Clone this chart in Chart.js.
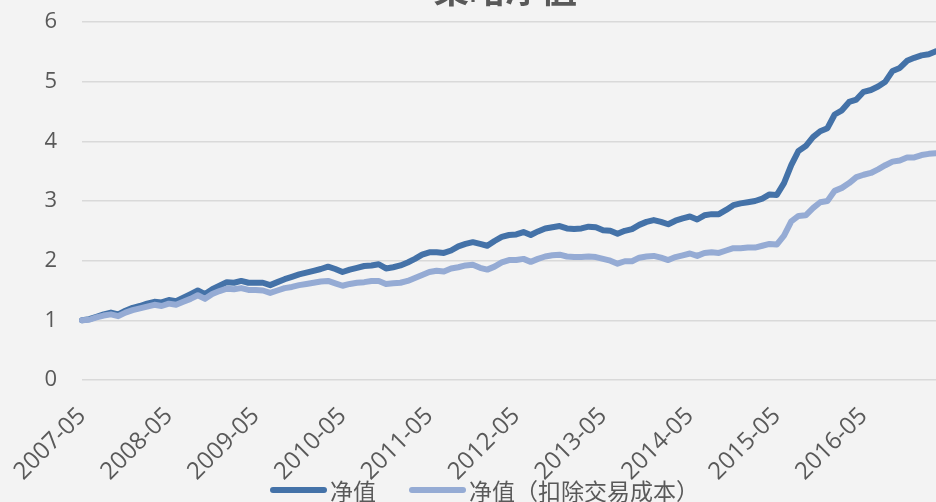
<!DOCTYPE html>
<html>
<head>
<meta charset="utf-8">
<title>策略净值</title>
<script src="https://cdn.jsdelivr.net/npm/chart.js@4.4.1/dist/chart.umd.min.js"></script>
<style>
    html, body {
        margin: 0;
        padding: 0;
        background: #f3f3f3;
        overflow: hidden;
    }
    .chart-container {
        position: relative;
        width: 936px;
        height: 502px;
    }
    .legend-container {
        position: absolute;
        left: 270px;
        top: 475px;
        height: 30px;
        display: flex;
        align-items: center;
        font: 23px "Noto Sans CJK SC", sans-serif;
        color: #595959;
        text-spacing-trim: space-all;
        font-kerning: none;
        font-feature-settings: "kern" 0, "palt" 0, "halt" 0;
    }
    .legend-item {
        display: flex;
        align-items: center;
        margin-right: 33px;
    }
    .legend-color {
        width: 57px;
        height: 6px;
        border-radius: 3px;
        margin-right: 3px;
    }
</style>
</head>
<body>
<div class="chart-container">
    <canvas id="navChart" width="936" height="502"></canvas>
</div>
<script>
// monthly points, 2007-05 .. 2017-03
const months = [];
for (let y = 2007, m = 5; months.length < 119; m++) {
    if (m > 12) { m = 1; y++; }
    months.push(`${y}-${String(m).padStart(2, '0')}`);
}

const netValue = [
    1.00, 1.02, 1.06, 1.10, 1.13, 1.10, 1.16, 1.21, 1.24, 1.28, 1.31, 1.30,
    1.34, 1.32, 1.38, 1.44, 1.50, 1.44, 1.52, 1.58, 1.64, 1.63, 1.66, 1.63,
    1.63, 1.63, 1.59, 1.64, 1.69, 1.73, 1.77, 1.80, 1.83, 1.86, 1.90, 1.86,
    1.81, 1.85, 1.88, 1.91, 1.92, 1.94, 1.87, 1.89, 1.92, 1.97, 2.03, 2.10,
    2.14, 2.14, 2.13, 2.17, 2.24, 2.28, 2.31, 2.28, 2.25, 2.33, 2.40, 2.43,
    2.44, 2.48, 2.43, 2.49, 2.54, 2.56, 2.58, 2.54, 2.53, 2.54, 2.57, 2.56,
    2.51, 2.50, 2.45, 2.50, 2.53, 2.60, 2.65, 2.68, 2.65, 2.61, 2.67, 2.71,
    2.74, 2.69, 2.76, 2.78, 2.78, 2.85, 2.93, 2.96, 2.98, 3.00, 3.04, 3.11,
    3.10, 3.30, 3.60, 3.84, 3.92, 4.07, 4.17, 4.22, 4.45, 4.52, 4.66, 4.70,
    4.83, 4.86, 4.92, 5.00, 5.18, 5.23, 5.35, 5.40, 5.44, 5.46, 5.51
];

const netValueAfterCost = [
    1.00, 1.01, 1.05, 1.08, 1.10, 1.07, 1.13, 1.17, 1.20, 1.23, 1.26, 1.24,
    1.28, 1.26, 1.31, 1.36, 1.42, 1.36, 1.44, 1.49, 1.53, 1.52, 1.54, 1.51,
    1.51, 1.50, 1.46, 1.50, 1.54, 1.56, 1.59, 1.61, 1.63, 1.65, 1.66, 1.62,
    1.58, 1.61, 1.63, 1.64, 1.66, 1.66, 1.61, 1.62, 1.63, 1.66, 1.71, 1.76,
    1.81, 1.83, 1.82, 1.87, 1.89, 1.92, 1.93, 1.88, 1.85, 1.90, 1.97, 2.01,
    2.01, 2.03, 1.98, 2.03, 2.07, 2.09, 2.10, 2.07, 2.06, 2.06, 2.07, 2.06,
    2.03, 2.00, 1.95, 1.99, 1.99, 2.05, 2.07, 2.08, 2.05, 2.01, 2.06, 2.09,
    2.12, 2.08, 2.13, 2.14, 2.13, 2.17, 2.21, 2.21, 2.22, 2.22, 2.25, 2.28,
    2.27, 2.42, 2.66, 2.75, 2.76, 2.88, 2.98, 3.00, 3.17, 3.22, 3.30, 3.40,
    3.44, 3.47, 3.53, 3.60, 3.66, 3.68, 3.73, 3.73, 3.77, 3.79, 3.80
];

const yTicks = [0, 1, 2, 3, 4, 5, 6];

const darkBlue = '#4472a8';
const lightBlue = '#95abd4';
const textColor = '#595959';

// title sits mostly above the canvas edge
const titlePlugin = {
    id: 'topTitle',
    afterDraw(chart) {
        const c = chart.ctx;
        c.save();
        c.font = 'bold 36px "Noto Sans CJK SC"';
        c.fillStyle = textColor;
        c.textAlign = 'center';
        c.textBaseline = 'alphabetic';
        c.fillText('策略净值', 505, 3);
        c.restore();
    }
};

const ctx = document.getElementById('navChart').getContext('2d');
const navChart = new Chart(ctx, {
    type: 'line',
    data: {
        labels: months,
        datasets: [
            {
                label: '净值',
                data: netValue,
                borderColor: darkBlue,
                borderWidth: 6,
                pointRadius: 0,
                tension: 0,
                borderJoinStyle: 'round',
                borderCapStyle: 'round',
                order: 1
            },
            {
                label: '净值（扣除交易成本）',
                data: netValueAfterCost,
                borderColor: lightBlue,
                borderWidth: 6,
                pointRadius: 0,
                tension: 0,
                borderJoinStyle: 'round',
                borderCapStyle: 'round',
                order: 0
            }
        ]
    },
    options: {
        responsive: false,
        animation: false,
        layout: { padding: { top: 22, left: 0, right: 0, bottom: 0 } },
        plugins: {
            legend: { display: false },
            tooltip: { enabled: false }
        },
        scales: {
            x: {
                grid: { display: false },
                border: { display: false },
                ticks: {
                    autoSkip: false,
                    maxRotation: 45,
                    minRotation: 45,
                    padding: 14,
                    color: textColor,
                    font: { family: 'Open Sans', size: 24 },
                    callback: (v, i) => months[i].endsWith('-05') ? months[i] : ''
                },
                afterFit: scale => {
                    scale.height = 122;
                    scale.paddingLeft = 0;
                    scale.paddingRight = 0;
                }
            },
            y: {
                min: 0,
                max: 6,
                afterBuildTicks: scale => {
                    scale.ticks = yTicks.map(v => ({ value: v }));
                },
                grid: { color: '#d9d9d9', lineWidth: 1.5, drawTicks: false },
                border: { display: false },
                ticks: {
                    padding: 25,
                    color: textColor,
                    font: { family: 'Open Sans', size: 22 }
                },
                afterFit: scale => {
                    scale.width = 82;
                    scale.paddingTop = 0;
                    scale.paddingBottom = 0;
                }
            }
        }
    },
    plugins: [titlePlugin]
});

// legend below the axis labels
const legendContainer = document.createElement('div');
legendContainer.classList.add('legend-container');
document.querySelector('.chart-container').appendChild(legendContainer);

const legendItems = [
    { color: darkBlue, label: '净值' },
    { color: lightBlue, label: '净值（扣除交易成本）' }
];

legendItems.forEach(item => {
    const legendItem = document.createElement('div');
    legendItem.classList.add('legend-item');

    const swatch = document.createElement('div');
    swatch.classList.add('legend-color');
    swatch.style.backgroundColor = item.color;

    const label = document.createElement('span');
    label.textContent = item.label;

    legendItem.appendChild(swatch);
    legendItem.appendChild(label);
    legendContainer.appendChild(legendItem);
});
</script>
</body>
</html>
